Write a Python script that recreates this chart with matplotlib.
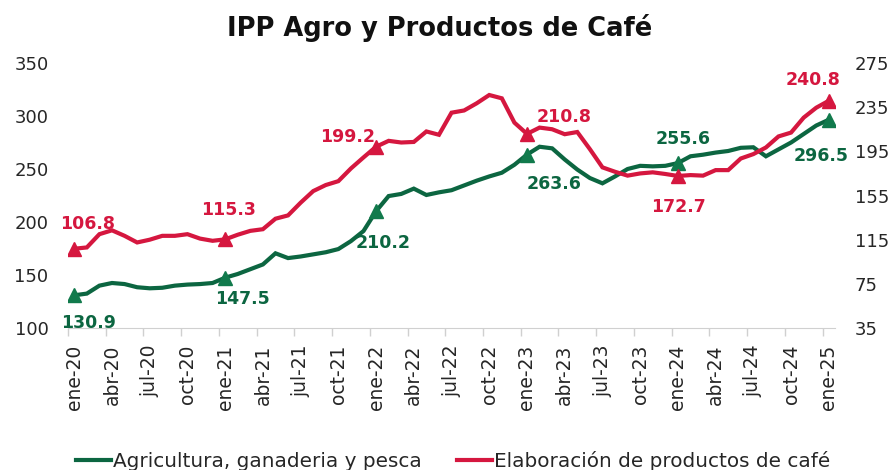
import matplotlib
matplotlib.use("Agg")
import matplotlib.pyplot as plt
import numpy as np

# monthly data, ene-20 .. ene-25
agro = [130.9, 132.5, 140.0, 142.5, 141.5, 138.5, 137.5, 138.0, 140.0, 141.0,
        141.5, 142.5, 147.5, 151.0, 155.5, 160.0, 170.5, 166.0, 167.5, 169.5,
        171.5, 174.5, 182.0, 191.5, 210.2, 224.5, 226.5, 231.5, 225.5, 228.0,
        230.0, 234.5, 239.0, 243.0, 246.5, 254.0, 263.6, 271.0, 269.5, 259.0,
        249.5, 241.5, 236.5, 243.0, 250.0, 253.0, 252.5, 253.0, 255.6, 262.0,
        263.5, 265.5, 267.0, 270.0, 270.5, 262.0, 268.5, 275.0, 283.0, 291.0,
        296.5]
cafe = [106.8, 108.0, 120.0, 123.5, 118.5, 112.5, 115.0, 118.5, 118.5, 120.0,
        116.0, 114.0, 115.3, 119.5, 123.0, 124.5, 134.0, 137.0, 148.5, 159.0,
        164.5, 168.0, 179.5, 189.5, 199.2, 204.5, 203.0, 203.5, 213.0, 210.0,
        230.0, 232.0, 238.5, 246.0, 243.0, 221.0, 210.8, 216.5, 215.0, 210.5,
        212.5, 197.0, 180.5, 176.5, 173.0, 175.0, 176.0, 174.5, 172.7, 173.5,
        173.0, 178.0, 178.0, 188.5, 192.5, 198.5, 208.5, 212.0, 225.5, 234.5,
        240.8]
tick_labels = ["ene-20", "abr-20", "jul-20", "oct-20", "ene-21", "abr-21", "jul-21",
               "oct-21", "ene-22", "abr-22", "jul-22", "oct-22", "ene-23", "abr-23",
               "jul-23", "oct-23", "ene-24", "abr-24", "jul-24", "oct-24", "ene-25"]
marked = [0, 12, 24, 36, 48, 60]

green = "#0c6641"
red = "#d5173f"
plt.rcParams["font.family"] = "DejaVu Sans"

x = np.arange(len(agro))

fig = plt.figure(figsize=(8.92, 4.70), dpi=100)
ax = fig.add_axes([0.0762, 0.302, 0.860, 0.564])
ax2 = ax.twinx()

l1, = ax.plot(x, agro, color=green, lw=3.0, solid_joinstyle="miter", zorder=3)
l2, = ax2.plot(x, cafe, color=red, lw=3.0, solid_joinstyle="miter", zorder=3)
ax.plot(x[marked], np.array(agro)[marked], ls="none", marker="^", ms=10,
        color="#117a4c", zorder=4)
ax2.plot(x[marked], np.array(cafe)[marked], ls="none", marker="^", ms=10,
         color=red, zorder=4)

ax.set_xlim(-0.5, len(agro) - 0.5)
ax.set_ylim(100, 350)
ax.set_yticks(np.arange(100, 351, 50))
ax2.set_ylim(35, 275)
ax2.set_yticks(np.arange(35, 276, 40))

ax.set_xticks(x[::3])
ax.set_xticklabels(tick_labels, rotation=90)
ax.set_xticks(np.arange(-0.5, len(agro), 3), minor=True)
ax.tick_params(axis="x", which="major", length=0, pad=12, labelsize=13.5,
               colors="#262626")
ax.tick_params(axis="x", which="minor", length=6, width=1, color="#d0d0d0")
ax.tick_params(axis="y", length=0, pad=14, labelsize=13, colors="#262626")
ax2.tick_params(axis="y", length=0, pad=14, labelsize=13, colors="#262626")

for a in (ax, ax2):
    for s in ("top", "left", "right"):
        a.spines[s].set_visible(False)
    a.spines["bottom"].set_color("#d0d0d0")
ax2.spines["bottom"].set_visible(False)

# data labels: index -> (dx px, dy px)
g_off = {0: (14, -28), 12: (17, -21), 24: (7, -32), 36: (27, -29), 48: (5, 24), 60: (-8, -36)}
r_off = {0: (13, 25), 12: (3, 29), 24: (-29, 10), 36: (37, 17), 48: (1, -31), 60: (-16, 21)}
for i, (dx, dy) in g_off.items():
    ax.annotate(f"{agro[i]:.1f}", (x[i], agro[i]), xytext=(dx, dy),
                textcoords="offset pixels", ha="center", va="center",
                fontsize=12.5, fontweight="bold", color=green, zorder=5)
for i, (dx, dy) in r_off.items():
    ax2.annotate(f"{cafe[i]:.1f}", (x[i], cafe[i]), xytext=(dx, dy),
                 textcoords="offset pixels", ha="center", va="center",
                 fontsize=12.5, fontweight="bold", color=red, zorder=5)

fig.text(0.493, 0.94, "IPP Agro y Productos de Café", ha="center", va="center",
         fontsize=18.5, fontweight="bold", color="#111111")

fig.legend([l1, l2], ["Agricultura, ganaderia y pesca", "Elaboración de productos de café"],
           loc="center", bbox_to_anchor=(0.508, 0.02), ncol=2, frameon=False,
           fontsize=14.4, handlelength=1.75, handletextpad=0.1, columnspacing=1.8,
           labelcolor="#262626")

fig.savefig("out.png", dpi=100)
